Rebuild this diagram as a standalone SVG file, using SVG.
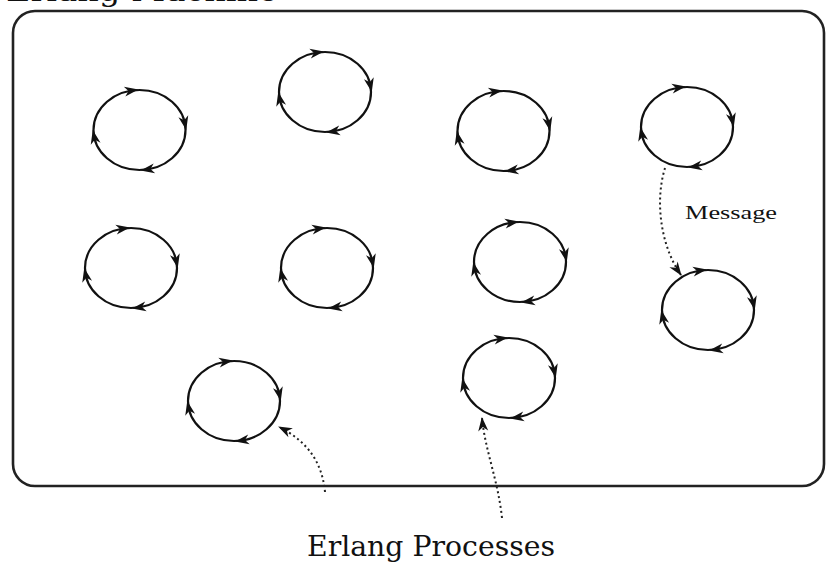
<svg xmlns="http://www.w3.org/2000/svg" width="827" height="562" viewBox="0 0 827 562">
<style>
.frame{fill:none;stroke:#222;stroke-width:2.6}
.proc{fill:none;stroke:#111;stroke-width:2.2}
.ah{fill:#111}
.conn{fill:none;stroke:#222;stroke-width:2;stroke-dasharray:2 3}
.lbl{font-family:"DejaVu Serif","Liberation Serif",serif;fill:#111}
.msg{font-family:"Liberation Serif",serif;fill:#111}
</style>
<defs>
<marker id="arr" viewBox="-8 -6 16 12" markerWidth="16" markerHeight="12" refX="6" refY="0" orient="auto" markerUnits="userSpaceOnUse">
<path d="M -7,-5 L 7,0 L -7,5 L -3,0 Z" fill="#111"/>
</marker>
<g id="procShape">
<ellipse class="proc" cx="0" cy="0" rx="46" ry="40"/>
<path class="ah" d="M -7,-5 L 7,0 L -7,5 L -3,0 Z" transform="translate(-8,-39.4) rotate(-8.5)"/>
<path class="ah" d="M -7,-5 L 7,0 L -7,5 L -3,0 Z" transform="translate(45.3,-6.9) rotate(78)"/>
<path class="ah" d="M -7,-5 L 7,0 L -7,5 L -3,0 Z" transform="translate(8,39.4) rotate(171.5)"/>
<path class="ah" d="M -7,-5 L 7,0 L -7,5 L -3,0 Z" transform="translate(-45.3,6.9) rotate(258)"/>
</g>
</defs>
<rect width="827" height="562" fill="#fff"/>
<text class="lbl" x="6" y="1" font-size="28" textLength="272" lengthAdjust="spacingAndGlyphs">Erlang Machine</text>
<g id="machine">
<rect class="frame" x="13" y="11" width="811" height="475" rx="22" ry="22"/>
</g>
<g id="p1"><use href="#procShape" x="139.5" y="130"/></g>
<g id="p2"><use href="#procShape" x="325" y="92"/></g>
<g id="p3"><use href="#procShape" x="503.5" y="131"/></g>
<g id="p4"><use href="#procShape" x="687" y="127"/></g>
<g id="p5"><use href="#procShape" x="131" y="268"/></g>
<g id="p6"><use href="#procShape" x="327" y="268"/></g>
<g id="p7"><use href="#procShape" x="520" y="262"/></g>
<g id="p8"><use href="#procShape" x="708" y="310"/></g>
<g id="p9"><use href="#procShape" x="234" y="401"/></g>
<g id="p10"><use href="#procShape" x="509" y="378"/></g>
<g id="connectors">
<path class="conn" d="M 665,168 C 655,200 660,245 681,275" marker-end="url(#arr)"/>
<path class="conn" d="M 325,492 C 322,460 305,440 279,427" marker-end="url(#arr)"/>
<path class="conn" d="M 502,518 C 498,480 485,450 482,418" marker-end="url(#arr)"/>
</g>
<text class="msg" x="685" y="219" font-size="19" textLength="92" lengthAdjust="spacingAndGlyphs">Message</text>
<text class="lbl" x="307" y="556" font-size="28" textLength="248" lengthAdjust="spacingAndGlyphs">Erlang Processes</text>
</svg>
